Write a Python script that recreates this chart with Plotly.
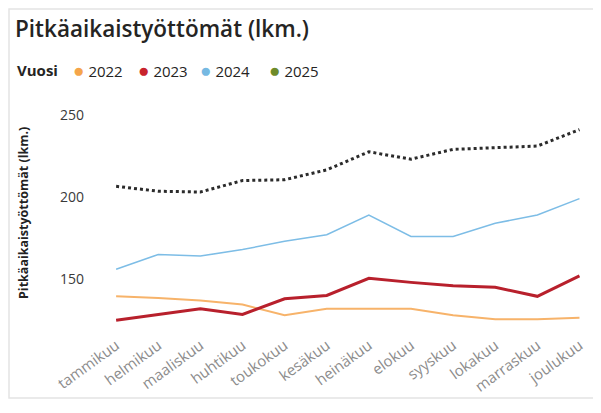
import plotly.graph_objects as go

kuukaudet = ["tammikuu", "helmikuu", "maaliskuu", "huhtikuu", "toukokuu", "kesäkuu",
             "heinäkuu", "elokuu", "syyskuu", "lokakuu", "marraskuu", "joulukuu"]

v2022 = [139.5, 138.5, 137, 134.5, 128, 132, 132, 132, 128, 125.5, 125.5, 126.5]
v2023 = [125, 128.5, 132, 128.5, 138, 140, 150.5, 148, 146, 145, 139.5, 152]
v2024 = [156, 165, 164, 168, 173, 177, 189, 176, 176, 184, 189, 199]
v2025 = [206.5, 203.5, 203, 210, 210.5, 216.5, 227.5, 223, 229, 230, 231, 241]

vuodet = ["2022", "2023", "2024", "2025"]
varit = ["#F5A54A", "#C8232C", "#76B9E2", "#6E8B2A"]

# page has an 8px body margin, so the figure is drawn 8px smaller and
# positions below are given in window pixels, then shifted
OFF = 8
W, H = 601 - OFF, 413 - OFF
L, T = 90 - OFF, 105 - OFF
R = W - (590 - OFF)
B = H - (330 - OFF)
pw, ph = W - L - R, H - T - B


def px_x(x):
    return (x - OFF - L) / pw


def px_y(y):
    return (H - B - (y - OFF)) / ph


fig = go.Figure()

fig.add_trace(go.Scatter(x=kuukaudet, y=v2022, mode="lines", name="2022",
                         line=dict(color="#F7B36A", width=2)))
fig.add_trace(go.Scatter(x=kuukaudet, y=v2023, mode="lines", name="2023",
                         line=dict(color="#B8202C", width=3)))
fig.add_trace(go.Scatter(x=kuukaudet, y=v2024, mode="lines", name="2024",
                         line=dict(color="#7DBDE6", width=1.5)))
fig.add_trace(go.Scatter(x=kuukaudet, y=v2025, mode="lines", name="2025",
                         line=dict(color="#2b2b2b", width=3, dash="dot")))

# legend row drawn with annotations so the dot sits right next to the year
selite = [dict(text="<b>Vuosi</b>", x=px_x(15), y=px_y(70), xref="paper", yref="paper",
               showarrow=False, xanchor="left", yanchor="middle",
               font=dict(size=15, color="#252423"))]
for nimi, vari, px in zip(vuodet, varit, [71, 136, 198, 267]):
    selite.append(dict(text=f"<span style='color:{vari};font-size:19px'>●</span> {nimi}",
                       x=px_x(px), y=px_y(70), xref="paper", yref="paper",
                       showarrow=False, xanchor="left", yanchor="middle",
                       font=dict(size=15, color="#252423")))

fig.update_layout(
    width=W, height=H,
    margin=dict(l=L, r=R, t=T, b=B),
    plot_bgcolor="white", paper_bgcolor="white",
    font=dict(family="Open Sans", color="#333"),
    showlegend=False,
    title=dict(text="Pitkäaikaistyöttömät (lkm.)", x=(15 - OFF) / W, xref="container",
               xanchor="left", y=1 - (29 - OFF) / H, yref="container", yanchor="middle",
               font=dict(size=22.5, color="#252423", weight=600)),
    xaxis=dict(range=[-0.62, 11.25], showgrid=False, zeroline=False, showline=False,
               tickangle=-36, tickfont=dict(size=15, color="#8c8c8c"), ticks="",
               ticklabelstandoff=3, automargin=False),
    yaxis=dict(range=[119, 256], tickvals=[150, 200, 250], showgrid=False, zeroline=False,
               showline=False, tickfont=dict(size=14, color="#3a3a3a"), ticks="",
               ticklabelstandoff=5, automargin=False),
    shapes=[dict(type="rect", xref="paper", yref="paper", x0=px_x(9), x1=px_x(597),
                 y0=px_y(398), y1=px_y(9), line=dict(color="#e4e4e4", width=1.5))],
    annotations=selite + [dict(text="<b>Pitkäaikaistyöttömät (lkm.)</b>", textangle=-90,
                               xref="paper", yref="paper", x=px_x(23), y=px_y(213),
                               xanchor="center", yanchor="middle",
                               showarrow=False, font=dict(size=12.5, color="#222"))],
)

fig.write_html("out.html")
